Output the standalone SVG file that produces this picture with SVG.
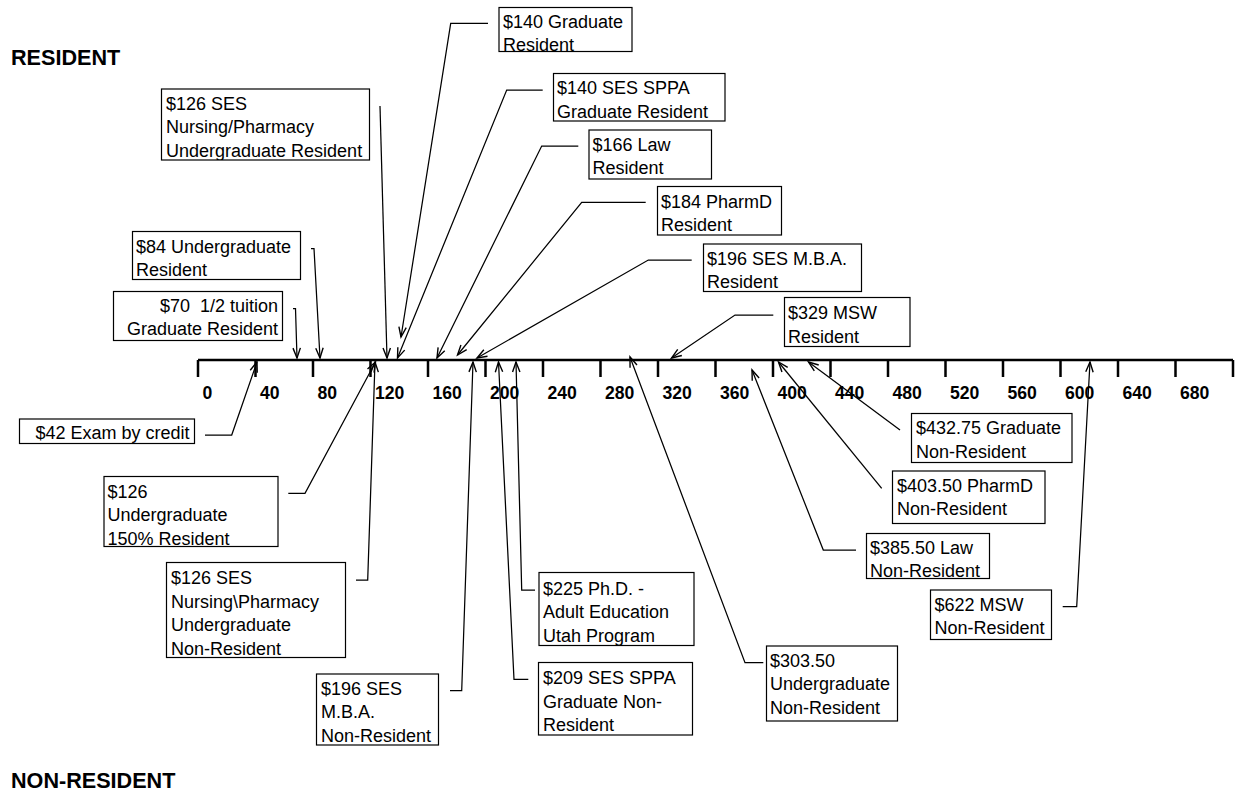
<svg xmlns="http://www.w3.org/2000/svg" width="1246" height="792" viewBox="0 0 1246 792">
<style>
text{font-family:"Liberation Sans",Arial,sans-serif;fill:#000}
.t{font-size:18px}
.h{font-size:21.6px;font-weight:bold}
.ax{font-size:17.6px;font-weight:bold}
.box{fill:none;stroke:#000;stroke-width:1.2}
.bg{fill:#fff}
.c{fill:none;stroke:#000;stroke-width:1.25;marker-end:url(#arr)}
.axis{stroke:#000;stroke-width:2.5;fill:none}
</style>
<defs>
<marker id="arr" markerUnits="userSpaceOnUse" markerWidth="12" markerHeight="10" refX="10" refY="4" orient="auto" overflow="visible">
<path d="M0,0.3 L10,4 L0,7.7" fill="none" stroke="#000" stroke-width="1.4"/>
</marker>
</defs>
<rect width="1246" height="792" fill="#fff"/>
<text class="h" x="11" y="65">RESIDENT</text>
<text class="h" x="11" y="787.5">NON-RESIDENT</text>

<g id="axis">
<path class="axis" d="M198,360 H1233"/>
<path class="axis" d="M198,360V377M255.5,360V377M313,360V377M370.5,360V377M428,360V377M485.5,360V377M543,360V377M600.5,360V377M658,360V377M715.5,360V377M773,360V377M830.5,360V377M888,360V377M945.5,360V377M1003,360V377M1060.5,360V377M1118,360V377M1175.5,360V377M1233,360V377"/>
<text class="ax" x="202.5" y="398.5">0</text>
<text class="ax" x="260" y="398.5">40</text>
<text class="ax" x="317.5" y="398.5">80</text>
<text class="ax" x="375" y="398.5">120</text>
<text class="ax" x="432.5" y="398.5">160</text>
<text class="ax" x="490" y="398.5">200</text>
<text class="ax" x="547.5" y="398.5">240</text>
<text class="ax" x="605" y="398.5">280</text>
<text class="ax" x="662.5" y="398.5">320</text>
<text class="ax" x="720" y="398.5">360</text>
<text class="ax" x="777.5" y="398.5">400</text>
<text class="ax" x="835" y="398.5">440</text>
<text class="ax" x="892.5" y="398.5">480</text>
<text class="ax" x="950" y="398.5">520</text>
<text class="ax" x="1007.5" y="398.5">560</text>
<text class="ax" x="1065" y="398.5">600</text>
<text class="ax" x="1122.5" y="398.5">640</text>
<text class="ax" x="1180" y="398.5">680</text>
</g>

<g id="connectors">
<polyline class="c" points="380,106 387,358"/>
<polyline class="c" points="311,248.5 314,248.5 320,358"/>
<polyline class="c" points="293,308.5 295.5,308.5 297,358"/>
<polyline class="c" points="488,23.3 450.7,23.3 401,337"/>
<polyline class="c" points="542.7,90 506.7,90 397.5,358"/>
<polyline class="c" points="578.3,146 541.7,146 437,358"/>
<polyline class="c" points="645.7,202.3 581.7,202.3 457.5,355"/>
<polyline class="c" points="691.7,260 648.3,260 477,358"/>
<polyline class="c" points="773.3,315 735,315 671.5,358"/>
<polyline class="c" points="205,435 231.7,435 257,362"/>
<polyline class="c" points="288.3,493.3 305,493.3 375.5,362"/>
<polyline class="c" points="356,580 367.7,580 375,362"/>
<polyline class="c" points="450,690.7 461.7,690.7 473,362"/>
<polyline class="c" points="535,590 521.7,590 516,362"/>
<polyline class="c" points="528.3,679.3 514,679.3 498.5,362"/>
<polyline class="c" points="763.3,662.7 745,662.7 630,357"/>
<polyline class="c" points="856,550 823.3,550 752,370"/>
<polyline class="c" points="881.7,488.3 778.5,362"/>
<polyline class="c" points="900,430 808.5,362"/>
<polyline class="c" points="1062.7,606.7 1076.7,606.7 1090,362"/>
</g>

<g id="n126-ses-res">
<rect class="bg" x="161.5" y="89" width="208" height="71"/>
<svg x="161.5" y="89" width="208" height="71" viewBox="161.5 89 208 71"><text class="t"><tspan x="166" y="110">$126 SES</tspan><tspan x="166" y="133.4">Nursing/Pharmacy</tspan><tspan x="166" y="156.8">Undergraduate Resident</tspan></text></svg>
<rect class="box" x="161.5" y="89" width="208" height="71"/>
</g>

<g id="n84">
<rect class="bg" x="132.5" y="231.5" width="168" height="48"/>
<svg x="132.5" y="231.5" width="168" height="48" viewBox="132.5 231.5 168 48"><text class="t"><tspan x="136" y="252.5">$84 Undergraduate</tspan><tspan x="136" y="275.5">Resident</tspan></text></svg>
<rect class="box" x="132.5" y="231.5" width="168" height="48"/>
</g>

<g id="n70">
<rect class="bg" x="113.5" y="291.5" width="169" height="49"/>
<text class="t" text-anchor="end" xml:space="preserve"><tspan x="278" y="312">$70  1/2 tuition</tspan><tspan x="278" y="335">Graduate Resident</tspan></text>
<rect class="box" x="113.5" y="291.5" width="169" height="49"/>
</g>

<g id="n140-grad">
<rect class="bg" x="499" y="7.5" width="133" height="44"/>
<svg x="499" y="7.5" width="133" height="44" viewBox="499 7.5 133 44"><text class="t"><tspan x="503" y="28">$140 Graduate</tspan><tspan x="503" y="51.4">Resident</tspan></text></svg>
<rect class="box" x="499" y="7.5" width="133" height="44"/>
</g>

<g id="n140-sppa">
<rect class="bg" x="553.5" y="73.5" width="171.5" height="47.5"/>
<text class="t"><tspan x="557" y="94.3">$140 SES SPPA</tspan><tspan x="557" y="117.8">Graduate Resident</tspan></text>
<rect class="box" x="553.5" y="73.5" width="171.5" height="47.5"/>
</g>

<g id="n166-law">
<rect class="bg" x="589" y="130" width="122.5" height="49"/>
<text class="t"><tspan x="592.5" y="150.8">$166 Law</tspan><tspan x="592.5" y="174.3">Resident</tspan></text>
<rect class="box" x="589" y="130" width="122.5" height="49"/>
</g>

<g id="n184">
<rect class="bg" x="657.5" y="186.5" width="124" height="48.5"/>
<text class="t"><tspan x="661" y="207.5">$184 PharmD</tspan><tspan x="661" y="231">Resident</tspan></text>
<rect class="box" x="657.5" y="186.5" width="124" height="48.5"/>
</g>

<g id="n196-res">
<rect class="bg" x="703.5" y="244" width="158" height="47.5"/>
<text class="t"><tspan x="707" y="264.5">$196 SES M.B.A.</tspan><tspan x="707" y="287.8">Resident</tspan></text>
<rect class="box" x="703.5" y="244" width="158" height="47.5"/>
</g>

<g id="n329">
<rect class="bg" x="784.5" y="297.5" width="125.5" height="49"/>
<text class="t"><tspan x="788" y="319">$329 MSW</tspan><tspan x="788" y="342.5">Resident</tspan></text>
<rect class="box" x="784.5" y="297.5" width="125.5" height="49"/>
</g>

<g id="n42">
<rect class="bg" x="19.5" y="419" width="175" height="24.5"/>
<text class="t" text-anchor="end" x="189.5" y="439">$42 Exam by credit</text>
<rect class="box" x="19.5" y="419" width="175" height="24.5"/>
</g>

<g id="n126-ug150">
<rect class="bg" x="104" y="476.5" width="174" height="70"/>
<svg x="104" y="476.5" width="174" height="70" viewBox="104 476.5 174 70"><text class="t"><tspan x="107.5" y="497.7">$126</tspan><tspan x="107.5" y="521.3">Undergraduate</tspan><tspan x="107.5" y="545">150% Resident</tspan></text></svg>
<rect class="box" x="104" y="476.5" width="174" height="70"/>
</g>

<g id="n126-ses-nr">
<rect class="bg" x="166.5" y="562.5" width="179" height="95"/>
<svg x="166.5" y="562.5" width="179" height="95" viewBox="166.5 562.5 179 95"><text class="t"><tspan x="171" y="584">$126 SES</tspan><tspan x="171" y="607.5">Nursing\Pharmacy</tspan><tspan x="171" y="631">Undergraduate</tspan><tspan x="171" y="654.5">Non-Resident</tspan></text></svg>
<rect class="box" x="166.5" y="562.5" width="179" height="95"/>
</g>

<g id="n196-nr">
<rect class="bg" x="316.5" y="674" width="122" height="71"/>
<svg x="316.5" y="674" width="122" height="71" viewBox="316.5 674 122 71"><text class="t"><tspan x="321" y="695">$196 SES</tspan><tspan x="321" y="718.4">M.B.A.</tspan><tspan x="321" y="741.8">Non-Resident</tspan></text></svg>
<rect class="box" x="316.5" y="674" width="122" height="71"/>
</g>

<g id="n225">
<rect class="bg" x="539" y="572.5" width="155" height="73"/>
<text class="t"><tspan x="543" y="594.5">$225 Ph.D. -</tspan><tspan x="543" y="618">Adult Education</tspan><tspan x="543" y="641.5">Utah Program</tspan></text>
<rect class="box" x="539" y="572.5" width="155" height="73"/>
</g>

<g id="n209">
<rect class="bg" x="538.5" y="662.5" width="154" height="72.5"/>
<text class="t"><tspan x="543" y="684">$209 SES SPPA</tspan><tspan x="543" y="707.5">Graduate Non-</tspan><tspan x="543" y="731">Resident</tspan></text>
<rect class="box" x="538.5" y="662.5" width="154" height="72.5"/>
</g>

<g id="n303">
<rect class="bg" x="766.5" y="646" width="131" height="75"/>
<text class="t"><tspan x="770" y="667">$303.50</tspan><tspan x="770" y="690.4">Undergraduate</tspan><tspan x="770" y="713.8">Non-Resident</tspan></text>
<rect class="box" x="766.5" y="646" width="131" height="75"/>
</g>

<g id="n385">
<rect class="bg" x="866.5" y="533.5" width="123" height="45"/>
<svg x="866.5" y="533.5" width="123" height="45" viewBox="866.5 533.5 123 45"><text class="t"><tspan x="870" y="553.5">$385.50 Law</tspan><tspan x="870" y="577">Non-Resident</tspan></text></svg>
<rect class="box" x="866.5" y="533.5" width="123" height="45"/>
</g>

<g id="n403">
<rect class="bg" x="892.5" y="471" width="152.5" height="52.5"/>
<text class="t"><tspan x="897" y="491.5">$403.50 PharmD</tspan><tspan x="897" y="515">Non-Resident</tspan></text>
<rect class="box" x="892.5" y="471" width="152.5" height="52.5"/>
</g>

<g id="n432">
<rect class="bg" x="911.5" y="413.5" width="160.5" height="49"/>
<text class="t"><tspan x="916" y="434.3">$432.75 Graduate</tspan><tspan x="916" y="457.7">Non-Resident</tspan></text>
<rect class="box" x="911.5" y="413.5" width="160.5" height="49"/>
</g>

<g id="n622">
<rect class="bg" x="930.5" y="590" width="121" height="49.5"/>
<text class="t"><tspan x="934.5" y="610.5">$622 MSW</tspan><tspan x="934.5" y="634">Non-Resident</tspan></text>
<rect class="box" x="930.5" y="590" width="121" height="49.5"/>
</g>
</svg>
